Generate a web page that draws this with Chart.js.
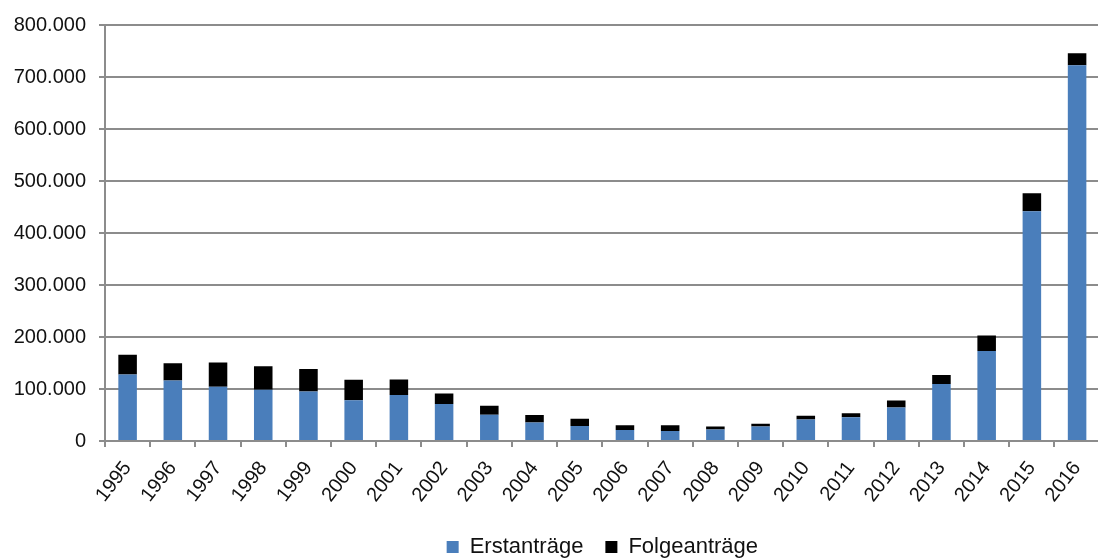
<!DOCTYPE html>
<html lang="de">
<head>
<meta charset="utf-8">
<title>Asylanträge 1995–2016</title>
<script src="https://cdn.jsdelivr.net/npm/chart.js@4/dist/chart.umd.min.js"></script>
<style>
    html, body { margin: 0; padding: 0; background: #fff; overflow: hidden; }
    #wrap { width: 1106px; height: 559px; position: relative; }
</style>
</head>
<body>
<div id="wrap"><canvas id="asylChart"></canvas></div>
<script>
// Asylanträge in Deutschland, Erst- und Folgeanträge
const years = ['1995', '1996', '1997', '1998', '1999', '2000', '2001', '2002', '2003', '2004', '2005',
               '2006', '2007', '2008', '2009', '2010', '2011', '2012', '2013', '2014', '2015', '2016'];
const erstantraege = [127937, 116367, 104353, 98644, 95113, 78564, 88287, 71127, 50563, 35607, 28914,
                      21029, 19164, 22085, 27649, 41332, 45741, 64539, 109580, 173072, 441899, 722370];
const folgeantraege = [38014, 33022, 46675, 45074, 43206, 39084, 30019, 20344, 17285, 14545, 13994,
                       9071, 11139, 6009, 5384, 7257, 7606, 13112, 17443, 29762, 34750, 23175];
const yTicks = [0, 100000, 200000, 300000, 400000, 500000, 600000, 700000, 800000];

const gridGray = '#8c8c8c';
const textColor = '#111111';
const fontFamily = '"Liberation Sans", Arial, sans-serif';

/** 800000 -> "800.000" */
function formatDe(v) {
    return String(v).replace(/\B(?=(\d{3})+(?!\d))/g, '.');
}

const ctx = document.getElementById('asylChart').getContext('2d');

new Chart(ctx, {
    type: 'bar',
    data: {
        labels: years,
        datasets: [
            {
                label: 'Erstanträge',
                data: erstantraege,
                backgroundColor: '#4a7ebb',
                borderWidth: 0
            },
            {
                label: 'Folgeanträge',
                data: folgeantraege,
                backgroundColor: '#000000',
                borderWidth: 0
            }
        ]
    },
    options: {
        responsive: true,
        maintainAspectRatio: false,
        animation: false,
        // negative bottom padding pushes the legend down toward the canvas edge
        layout: { padding: { top: 23, left: 0, right: 0, bottom: -9 } },
        datasets: {
            bar: { barPercentage: 0.41, categoryPercentage: 1.0 }
        },
        scales: {
            x: {
                stacked: true,
                grid: {
                    offset: true,
                    drawOnChartArea: false,
                    drawTicks: true,
                    tickLength: 6,
                    color: gridGray,
                    lineWidth: 2
                },
                border: { color: gridGray, width: 2 },
                ticks: {
                    autoSkip: false,
                    minRotation: 52,
                    maxRotation: 52,
                    padding: 10,
                    color: textColor,
                    font: { family: fontFamily, size: 20 }
                },
                afterFit(scale) { scale.height = 73; }
            },
            y: {
                stacked: true,
                min: 0,
                max: 800000,
                afterBuildTicks(scale) {
                    scale.ticks = yTicks.map(v => ({ value: v }));
                },
                grid: {
                    color: gridGray,
                    lineWidth: 2,
                    tickLength: 6
                },
                border: { color: gridGray, width: 2 },
                ticks: {
                    padding: 13,
                    color: textColor,
                    font: { family: fontFamily, size: 20 },
                    callback: v => formatDe(v)
                },
                afterFit(scale) { scale.width = 105; }
            }
        },
        plugins: {
            legend: {
                position: 'bottom',
                fullSize: false,
                labels: {
                    boxWidth: 12,
                    boxHeight: 12,
                    padding: 22,
                    color: textColor,
                    font: { family: fontFamily, size: 22 }
                }
            },
            tooltip: { enabled: false }
        }
    }
});
</script>
</body>
</html>
